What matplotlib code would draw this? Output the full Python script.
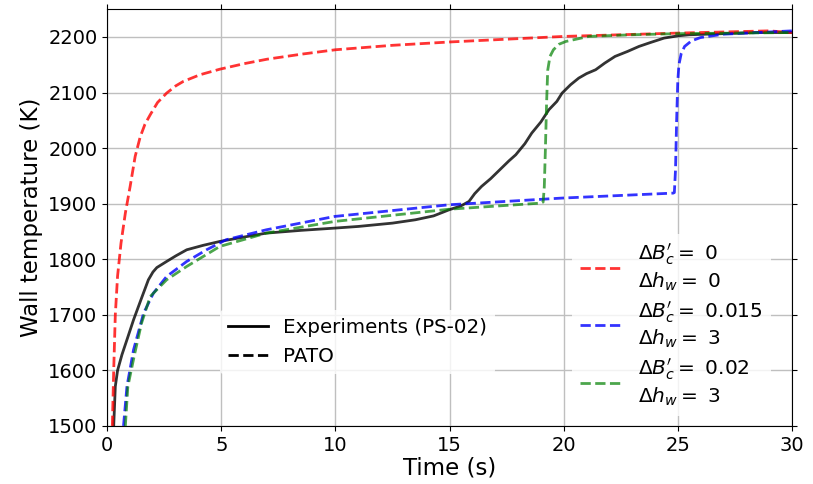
import matplotlib
matplotlib.use("Agg")
import matplotlib.pyplot as plt
from matplotlib.lines import Line2D

# experiment (PS-02)
t_exp = [0.28, 0.32, 0.35, 0.45, 0.64, 0.9, 1.15, 1.5, 1.8, 2.0, 2.17, 2.6, 3.0, 3.48, 4.2,
         4.93, 6.0, 6.97, 8.5, 9.96, 11.0, 12.5, 13.5, 14.3, 14.98, 15.5, 15.85, 16.1, 16.4,
         16.8, 17.2, 17.6, 17.9, 18.3, 18.6, 19.0, 19.35, 19.7, 19.93, 20.3, 20.66, 21.0,
         21.4, 21.8, 22.25, 22.8, 23.3, 23.8, 24.4, 25.0, 25.5, 27.0, 28.5, 30.0]
T_exp = [1500, 1540, 1571, 1600, 1628, 1660, 1691, 1730, 1763, 1777, 1785, 1796, 1806, 1817,
         1825, 1832, 1840, 1847, 1852, 1856, 1859, 1865, 1871, 1878, 1889, 1896, 1904, 1918,
         1931, 1945, 1961, 1977, 1988, 2008, 2027, 2047, 2069, 2084, 2099, 2114, 2126, 2134,
         2141, 2153, 2165, 2174, 2183, 2190, 2198, 2202, 2204, 2206, 2208, 2208]

# PATO, dBc = 0, dhw = 0
t_red = [0.22, 0.28, 0.35, 0.45, 0.6, 0.79, 1.0, 1.22, 1.44, 1.65, 1.88, 2.2, 2.6, 3.0,
         3.33, 4.06, 4.93, 6.0, 7.0, 8.5, 10.0, 12.5, 15.0, 17.5, 20.0, 25.0, 29.0, 30.0]
T_red = [1500, 1600, 1700, 1770, 1829, 1883, 1931, 1985, 2020, 2043, 2060, 2082, 2099, 2112,
         2120, 2132, 2142, 2152, 2160, 2169, 2177, 2185, 2191, 2196, 2201, 2207, 2211, 2208]

# PATO, dBc = 0.015, dhw = 3
t_blue = [0.71, 0.86, 1.15, 1.59, 2.02, 2.6, 3.48, 4.35, 5.2, 6.97, 9.96, 14.98, 19.9,
          24.8, 24.85, 24.9, 24.95, 25.0, 25.05, 25.15, 25.3, 25.6, 26.0, 27.0, 28.0, 29.0, 30.0]
T_blue = [1500, 1571, 1637, 1703, 1739, 1769, 1796, 1817, 1835, 1853, 1877, 1898, 1910,
          1919, 1920, 1960, 2050, 2120, 2150, 2170, 2183, 2193, 2199, 2205, 2207, 2209, 2211]

# PATO, dBc = 0.02, dhw = 3
t_green = [0.79, 0.9, 1.2, 1.5, 1.88, 2.6, 3.48, 4.93, 6.97, 9.96, 14.98, 19.0, 19.1,
           19.15, 19.2, 19.25, 19.3, 19.4, 19.55, 19.8, 20.1, 21.1, 23.0, 25.0, 30.0]
T_green = [1500, 1571, 1630, 1685, 1733, 1763, 1787, 1823, 1847, 1868, 1890, 1901, 1903,
           1930, 2000, 2080, 2140, 2165, 2177, 2187, 2192, 2201, 2204, 2206, 2208]

labels = [r"$\Delta B_c' =$ 0" + "\n" + r"$\Delta h_w =$ 0",
          r"$\Delta B_c' =$ 0.015" + "\n" + r"$\Delta h_w =$ 3",
          r"$\Delta B_c' =$ 0.02" + "\n" + r"$\Delta h_w =$ 3"]

fig = plt.figure(figsize=(8.13, 4.84), dpi=100)
ax = fig.add_axes([0.132, 0.12, 0.842, 0.861])

ax.plot(t_exp, T_exp, color='k', alpha=0.8, lw=2)
l1, = ax.plot(t_red, T_red, '--', color='r', alpha=0.8, lw=2)
l2, = ax.plot(t_blue, T_blue, '--', color='b', alpha=0.8, lw=2)
l3, = ax.plot(t_green, T_green, '--', color='g', alpha=0.7, lw=2)

ax.set_xlim(0, 30)
ax.set_ylim(1500, 2250)
ax.set_xticks(range(0, 31, 5))
ax.set_yticks(range(1500, 2201, 100))
ax.grid(True, color='0.75', lw=1)
ax.tick_params(labelsize=14, top=True, right=True, direction='out')
ax.set_xlabel('Time (s)', fontsize=16.5, labelpad=1)
ax.set_ylabel('Wall temperature (K)', fontsize=16.5)

leg2 = ax.legend([l1, l2, l3], labels, loc='lower left', fontsize=14.5,
                 edgecolor='none', facecolor='white', framealpha=0.8,
                 bbox_to_anchor=(0.664, 0.0), labelspacing=0.3, handletextpad=0.9)
ax.add_artist(leg2)

h_exp = Line2D([], [], color='k', lw=2)
h_pato = Line2D([], [], color='k', lw=2, ls='--')
ax.legend([h_exp, h_pato], ['Experiments (PS-02)', 'PATO'], loc='lower left',
          bbox_to_anchor=(0.15, 0.10), fontsize=14.3, edgecolor='none',
          facecolor='white', framealpha=0.8)

fig.savefig('out.png', dpi=100)
